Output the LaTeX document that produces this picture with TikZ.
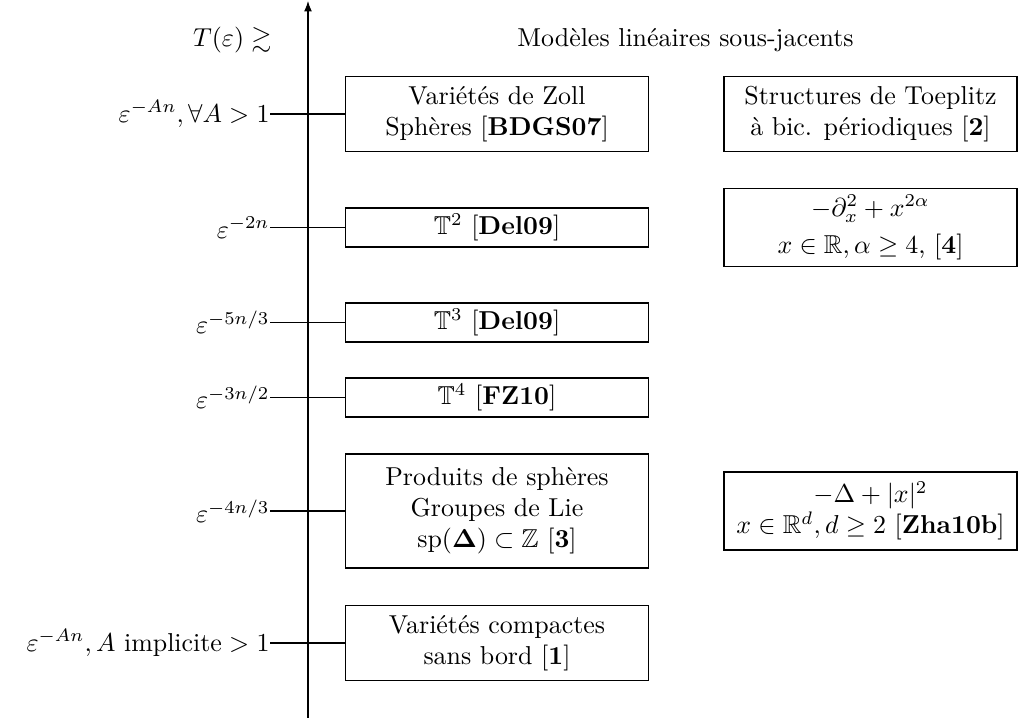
\documentclass[tikz,border=0pt]{standalone}
\usepackage{amsmath,amssymb}
\usepackage{fontspec}
\usetikzlibrary{arrows.meta}
\tikzset{
  lbox/.style={draw=black, line width=0.4pt, align=center, inner xsep=3.33pt, inner ysep=2pt, minimum width=117.3pt},
  rbox/.style={draw=black, line width=0.4pt, align=center, inner xsep=3.33pt, inner ysep=2pt, minimum width=113.1pt},
  tlab/.style={anchor=east, inner sep=0pt},
  conn/.style={draw=black, line width=0.4pt}
}
\begin{document}
\begin{tikzpicture}[x=0.386pt,y=-0.386pt]
\useasboundingbox (0,0) rectangle (1019,722);
% axis
\coordinate (axb) at (308,718);
\coordinate (axt) at (308,1);
\draw[line width=0.4pt,-{Latex[length=4pt,width=3pt]}] (axb) -- (axt);
% headers
\node[tlab] (Tlab) at (272,40) {$T(\varepsilon)\gtrsim$};
\node[inner sep=0pt] (title) at (685.5,40) {Modèles linéaires sous-jacents};
% left boxes
\node[lbox, minimum height=29.3pt] (zoll) at (497,114) {Variétés de Zoll\\Sphères [\textbf{BDGS07}]};
\node[lbox, minimum height=15.05pt] (t2) at (497,227.5) {$\mathbb{T}^2$ [\textbf{Del09}]};
\node[lbox, minimum height=15.05pt] (t3) at (497,322.5) {$\mathbb{T}^3$ [\textbf{Del09}]};
\node[lbox, minimum height=15.05pt] (t4) at (497,397.5) {$\mathbb{T}^4$ [\textbf{FZ10}]};
\node[lbox, minimum height=44pt] (prod) at (497,511) {Produits de sphères\\Groupes de Lie\\$\mathrm{sp}(\boldsymbol{\Delta})\subset\mathbb{Z}$ [\textbf{3}]};
\node[lbox, minimum height=29.3pt] (comp) at (497,643) {Variétés compactes\\sans bord [\textbf{1}]};
% right boxes
\node[rbox, minimum height=29.3pt] (toep) at (870.5,114) {Structures de Toeplitz\\à bic. périodiques [\textbf{2}]};
\node[rbox, minimum height=30.1pt] (dx) at (870.5,227.5) {$-\partial_x^2+x^{2\alpha}$\\[2.4pt]$x\in\mathbb{R},\alpha\geq 4$, [\textbf{4}]};
\node[rbox, minimum height=30.1pt] (lap) at (870.5,511) {$-\Delta+|x|^2$\\$x\in\mathbb{R}^d, d\geq 2$ [\textbf{Zha10b}]};
% axis labels
\node[tlab] (l1) at (270,114) {$\varepsilon^{-An},\forall A>1$};
\node[tlab] (l2) at (270,227.5) {$\varepsilon^{-2n}$\hspace{5pt}};
\node[tlab] (l3) at (270,322.5) {$\varepsilon^{-5n/3}$};
\node[tlab] (l4) at (270,397.5) {$\varepsilon^{-3n/2}$};
\node[tlab] (l5) at (270,511) {$\varepsilon^{-4n/3}$};
\node[tlab] (l6) at (270,643) {$\varepsilon^{-An}, A \text{ implicite} >1$\hspace{5pt}};
% connectors
\draw[conn] (l1.east) -- (zoll.west);
\draw[conn] (l2.east) -- (t2.west);
\draw[conn] (l3.east) -- (t3.west);
\draw[conn] (l4.east) -- (t4.west);
\draw[conn] (l5.east) -- (prod.west);
\draw[conn] (l6.east) -- (comp.west);
\end{tikzpicture}
\end{document}
